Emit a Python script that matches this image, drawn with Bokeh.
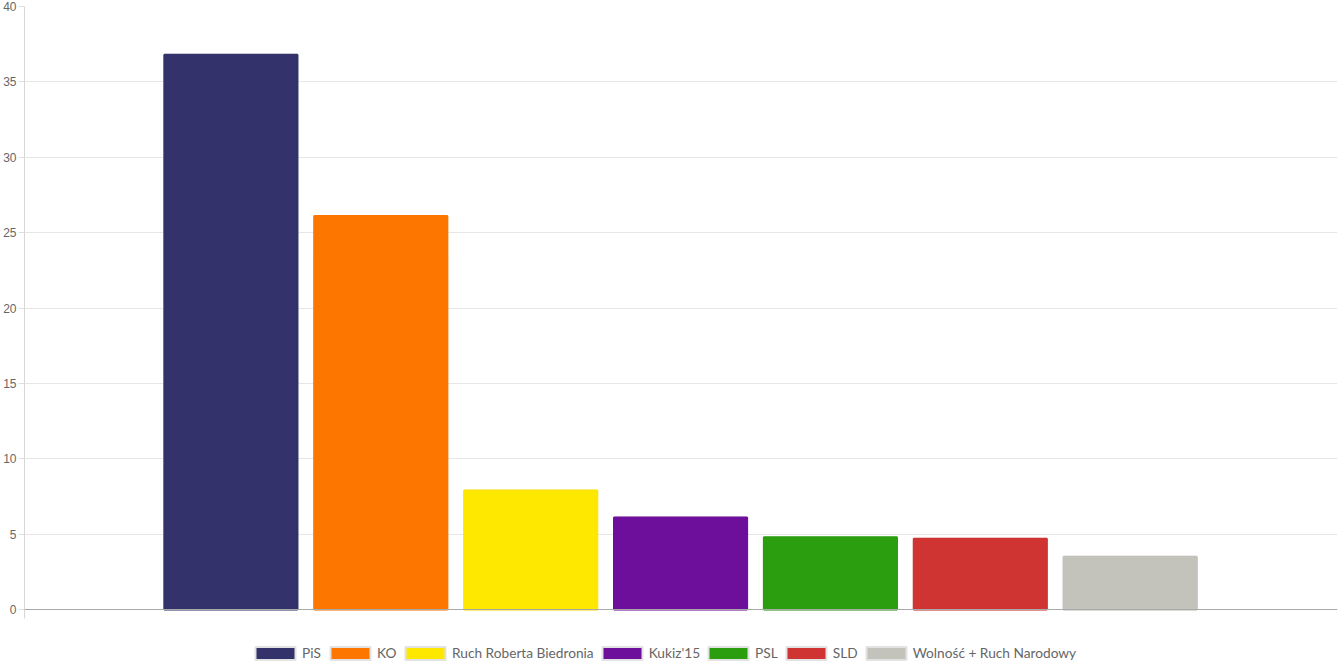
from bokeh.plotting import figure
from bokeh.models import ColumnDataSource, Legend, LegendItem, Range1d, FixedTicker, CDSView, IndexFilter, Span
from bokeh.embed import file_html
from bokeh.resources import INLINE

parties = ["PiS", "KO", "Ruch Roberta Biedronia", "Kukiz'15", "PSL", "SLD", "Wolność + Ruch Narodowy"]
values = [36.8, 26.1, 7.9, 6.1, 4.8, 4.7, 3.5]
colors = ["#33326a", "#fd7600", "#ffe800", "#6e0f9c", "#2b9e0f", "#cf3433", "#c4c3bb"]
y_ticks = [0, 5, 10, 15, 20, 25, 30, 35, 40]

src = ColumnDataSource(dict(x=list(range(len(parties))), top=values, color=colors, party=parties))

p = figure(width=1340, height=670,
           x_range=Range1d(-1.377, len(parties) - 1 + 1.383),
           y_range=Range1d(-4.046, 40),
           x_axis_location=None,
           output_backend="svg", toolbar_location=None,
           min_border_top=6, min_border_bottom=0, min_border_left=0, min_border_right=3)
p.outline_line_color = None
p.background_fill_color = "white"
p.border_fill_color = "white"

BAR_W = 0.888

# per-party renderers (used by the legend, with the light grey box border)
items = []
for i, name in enumerate(parties):
    r = p.vbar(x="x", top="top", width=BAR_W, fill_color="color", line_color="#e2e2e2",
               line_width=2, source=src, view=CDSView(filter=IndexFilter([i])))
    items.append(LegendItem(label=name, renderers=[r]))

# visible bars drawn on top (border in the fill colour hides the grey edge)
p.vbar(x="x", top="top", width=BAR_W, fill_color="color", line_color="color",
       line_width=2, source=src)

p.add_layout(Span(location=0, dimension="width", line_color="#a8a8a8", line_width=1))

legend = Legend(items=items, orientation="horizontal", location=(226, 9),
                glyph_width=50, glyph_height=16, label_standoff=2, spacing=3,
                padding=0, margin=0, border_line_color=None, background_fill_alpha=0,
                label_text_font="Lato", label_text_font_size="13.7px", label_text_color="#666666")
p.add_layout(legend)

p.xgrid.visible = False
p.ygrid.grid_line_color = "#e6e6e6"
p.ygrid.ticker = FixedTicker(ticks=y_ticks)

p.yaxis.ticker = FixedTicker(ticks=y_ticks)
p.yaxis.bounds = (-0.6, 40)
p.yaxis.axis_line_color = "#d6d6d6"
p.yaxis.major_tick_line_color = "#e0e0e0"
p.yaxis.major_tick_out = 6
p.yaxis.major_tick_in = 0
p.yaxis.minor_tick_line_color = None
p.yaxis.major_label_text_font = "Liberation Sans"
p.yaxis.major_label_text_font_size = "12px"
p.yaxis.major_label_text_color = "#666666"
p.yaxis.major_label_standoff = 2

open("out.html", "w").write(file_html(p, INLINE))
